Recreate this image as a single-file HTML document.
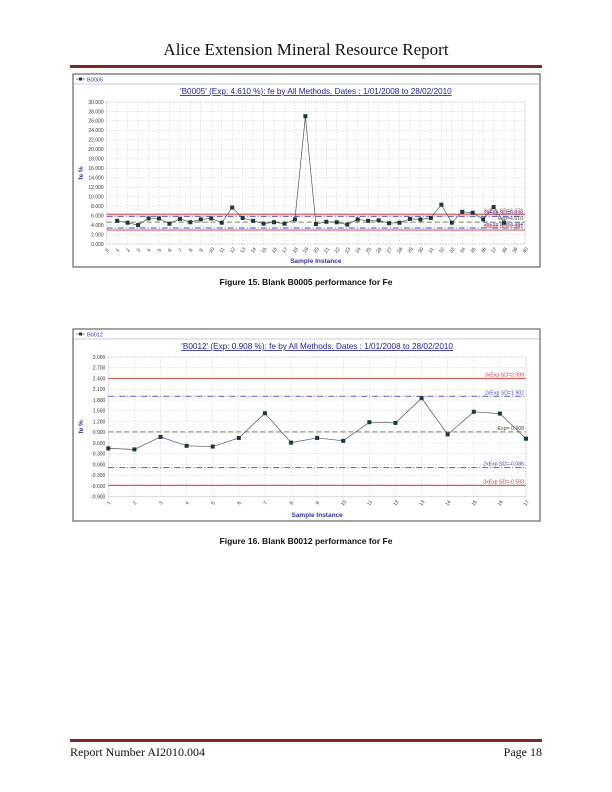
<!DOCTYPE html>
<html><head><meta charset="utf-8">
<style>
body{margin:0;background:#fff;}
#page{position:relative;width:612px;height:792px;background:#fff;overflow:hidden;font-family:"Liberation Sans",sans-serif;}
.hdr{position:absolute;left:0;width:612px;text-align:center;top:40px;font-family:"Liberation Serif",serif;font-size:17px;color:#111;}
.rule{position:absolute;left:70px;width:472px;height:3px;background:#7a2a2a;}
.cap{position:absolute;left:0;width:612px;text-align:center;font-size:8.5px;font-weight:bold;color:#111;}
.ftr{position:absolute;top:745px;font-family:"Liberation Serif",serif;font-size:12px;color:#111;}
svg{position:absolute;left:0;}
</style></head>
<body>
<div id="page">
<div class="hdr">Alice Extension Mineral Resource Report</div>
<div class="rule" style="top:65px"></div>
<svg id="c1" width="612" height="280" style="top:0"></svg>
<div class="cap" style="top:277px">Figure 15. Blank B0005 performance for Fe</div>
<svg id="c2" width="612" height="540" style="top:0"></svg>
<div class="cap" style="top:536px">Figure 16. Blank B0012 performance for Fe</div>
<div class="rule" style="top:739px"></div>
<div class="ftr" style="left:70px">Report Number AI2010.004</div>
<div class="ftr" style="right:70px">Page 18</div>
</div>
<script>
// Chart 1 data
const c1Categories = [0,1,2,3,4,5,6,7,8,9,10,11,12,13,14,15,16,17,18,19,20,21,22,23,24,25,26,27,28,29,30,31,32,33,34,35,36,37,38,39,40];
const c1Values = [null,4.9,4.5,4.0,5.4,5.4,4.3,5.3,4.6,5.2,5.4,4.5,7.7,5.5,4.9,4.3,4.6,4.3,5.2,27.0,4.2,4.7,4.6,4.1,5.2,4.9,5.0,4.4,4.5,5.3,5.2,5.5,8.3,4.5,6.8,6.6,5.2,7.8,4.5,null,null];
const c1YTicks = [0,2,4,6,8,10,12,14,16,18,20,22,24,26,28,30];
const c1Limits = [6.279,5.836,4.610,3.384,2.941];
const c1LimitLabels = ["3xExp SD=6.279","2xExp SD=5.836","Exp=4.610","2xExp SD=3.384","3xExp SD=2.941"];
// Chart 2 data
const c2Categories = [1,2,3,4,5,6,7,8,9,10,11,12,13,14,15,16,17];
const c2Values = [0.45,0.42,0.77,0.52,0.50,0.74,1.43,0.61,0.74,0.66,1.18,1.16,1.85,0.84,1.47,1.42,0.72];
const c2YTicks = [-0.9,-0.6,-0.3,0,0.3,0.6,0.9,1.2,1.5,1.8,2.1,2.4,2.7,3.0];
const c2Limits = [2.399,1.902,0.908,-0.086,-0.583];
const c2LimitLabels = ["3xExp SD=2.399","2xExp SD=1.902","Exp= 0.908","2xExp SD=-0.086","3xExp SD=-0.583"];

const NS="http://www.w3.org/2000/svg";
function mk(svg,tag,attrs,name){const e=document.createElementNS(NS,tag);for(const k in attrs)e.setAttribute(k,attrs[k]);


svg.appendChild(e);return e;}
const limStyles=[{s:"#d46060",d:"",w:1.2},{s:"#6a6ad8",d:"6,2,1,2",w:1.2},{s:"#808050",d:"5,3",w:1},{s:"#6a6ad8",d:"6,2,1,2",w:1.2},{s:"#d46060",d:"",w:1.2}];
const limColors=["#c04040","#4848b0","#505030","#4848b0","#c04040"];
function draw(svg,o){
  const {fx,fy,fw,fh,px0,px1,py0,py1,ymin,ymax,cats,vals,ticks,lims,labs,legend,title,dec,xmin,xmax}=o;
  mk(svg,'rect',{x:fx,y:fy,width:fw,height:fh,fill:'#fff',stroke:'#666','stroke-width':1.2},'chart-frame');
  mk(svg,'line',{x1:fx,x2:fx+fw,y1:fy+10,y2:fy+10,stroke:'#999','stroke-width':0.6},'legend-separator');
  mk(svg,'rect',{x:fx+6,y:fy+3.5,width:3,height:3,fill:'#1a3a3a'},'legend-marker');
  mk(svg,'line',{x1:fx+3,x2:fx+12,y1:fy+5,y2:fy+5,stroke:'#333','stroke-width':0.6},'legend-line');
  const lt=mk(svg,'text',{x:fx+14,y:fy+7.5,'font-size':5.5,fill:'#333399'},'legend-entry');lt.textContent=legend;
  const tt=mk(svg,'text',{x:(px0+px1)/2,y:fy+20,'font-size':8.2,fill:'#22229a','text-anchor':'middle','text-decoration':'underline'},'chart-title');tt.textContent=title;
  const X=c=>px0+(c-xmin)/(xmax-xmin)*(px1-px0);
  const Y=v=>py1-(v-ymin)/(ymax-ymin)*(py1-py0);
  // grid
  ticks.forEach(t=>{mk(svg,'line',{x1:px0,x2:px1,y1:Y(t),y2:Y(t),stroke:'#c8c8c8','stroke-width':0.5,'stroke-dasharray':'1.5,1.5'},'y-gridline');
    const tx=mk(svg,'text',{x:px0-3,y:Y(t)+1.8,'font-size':5,fill:'#333','text-anchor':'end'},'y-tick-label');tx.textContent=t.toFixed(3);});
  cats.forEach(c=>{mk(svg,'line',{x1:X(c),x2:X(c),y1:py0,y2:py1,stroke:'#c8c8c8','stroke-width':0.5,'stroke-dasharray':'1.5,1.5'},'x-gridline');
    const tx=mk(svg,'text',{x:X(c),y:py1+8,'font-size':5,fill:'#333','text-anchor':'middle',transform:`rotate(-55 ${X(c)} ${py1+6})`},'x-tick-label');tx.textContent=c;});
  mk(svg,'rect',{x:px0,y:py0,width:px1-px0,height:py1-py0,fill:'none',stroke:'#aaa','stroke-width':0.5,'stroke-dasharray':'1.5,1.5'},'plot-area');
  lims.forEach((v,i)=>{const st=limStyles[i];mk(svg,'line',{x1:px0,x2:px1,y1:Y(v),y2:Y(v),stroke:st.s,'stroke-width':st.w,'stroke-dasharray':st.d},'control-limit-line');
    const tx=mk(svg,'text',{x:px1-2,y:Y(v)-2,'font-size':5.2,fill:limColors[i],'text-anchor':'end'},'control-limit-label');tx.textContent=labs[i];});
  let d='';cats.forEach((c,i)=>{if(vals[i]==null)return;d+=(d?'L':'M')+X(c)+','+Y(vals[i]);});
  mk(svg,'path',{d:d,fill:'none',stroke:'#555','stroke-width':0.7},'data-line');
  cats.forEach((c,i)=>{if(vals[i]==null)return;mk(svg,'rect',{x:X(c)-2,y:Y(vals[i])-2,width:4,height:4,fill:'#1a3a3a'},'data-point');});
  const xt=mk(svg,'text',{x:(px0+px1)/2,y:fy+fh-4,'font-size':6.5,'font-weight':'bold',fill:'#33339a','text-anchor':'middle'},'x-axis-title');xt.textContent='Sample Instance';
  const yx=fx+10,yy=(py0+py1)/2;
  const yt=mk(svg,'text',{x:yx,y:yy,'font-size':6.5,'font-weight':'bold',fill:'#33339a','text-anchor':'middle',transform:`rotate(-90 ${yx} ${yy})`},'y-axis-title');yt.textContent='fe %';
}
draw(document.getElementById('c1'),{fx:73,fy:74,fw:467,fh:193,px0:106.7,px1:525,py0:102,py1:244,ymin:0,ymax:30,xmin:0,xmax:40,
  cats:c1Categories,vals:c1Values,ticks:c1YTicks,lims:c1Limits,labs:c1LimitLabels,legend:'B0005',
  title:"'B0005' (Exp: 4.610 %): fe by All Methods. Dates : 1/01/2008 to 28/02/2010"});
draw(document.getElementById('c2'),{fx:73,fy:329,fw:467,fh:192,px0:108.3,px1:526,py0:357,py1:496.7,ymin:-0.9,ymax:3.0,xmin:1,xmax:17,
  cats:c2Categories,vals:c2Values,ticks:c2YTicks,lims:c2Limits,labs:c2LimitLabels,legend:'B0012',
  title:"'B0012' (Exp: 0.908 %): fe by All Methods. Dates : 1/01/2008 to 28/02/2010"});
</script>
</body></html>
